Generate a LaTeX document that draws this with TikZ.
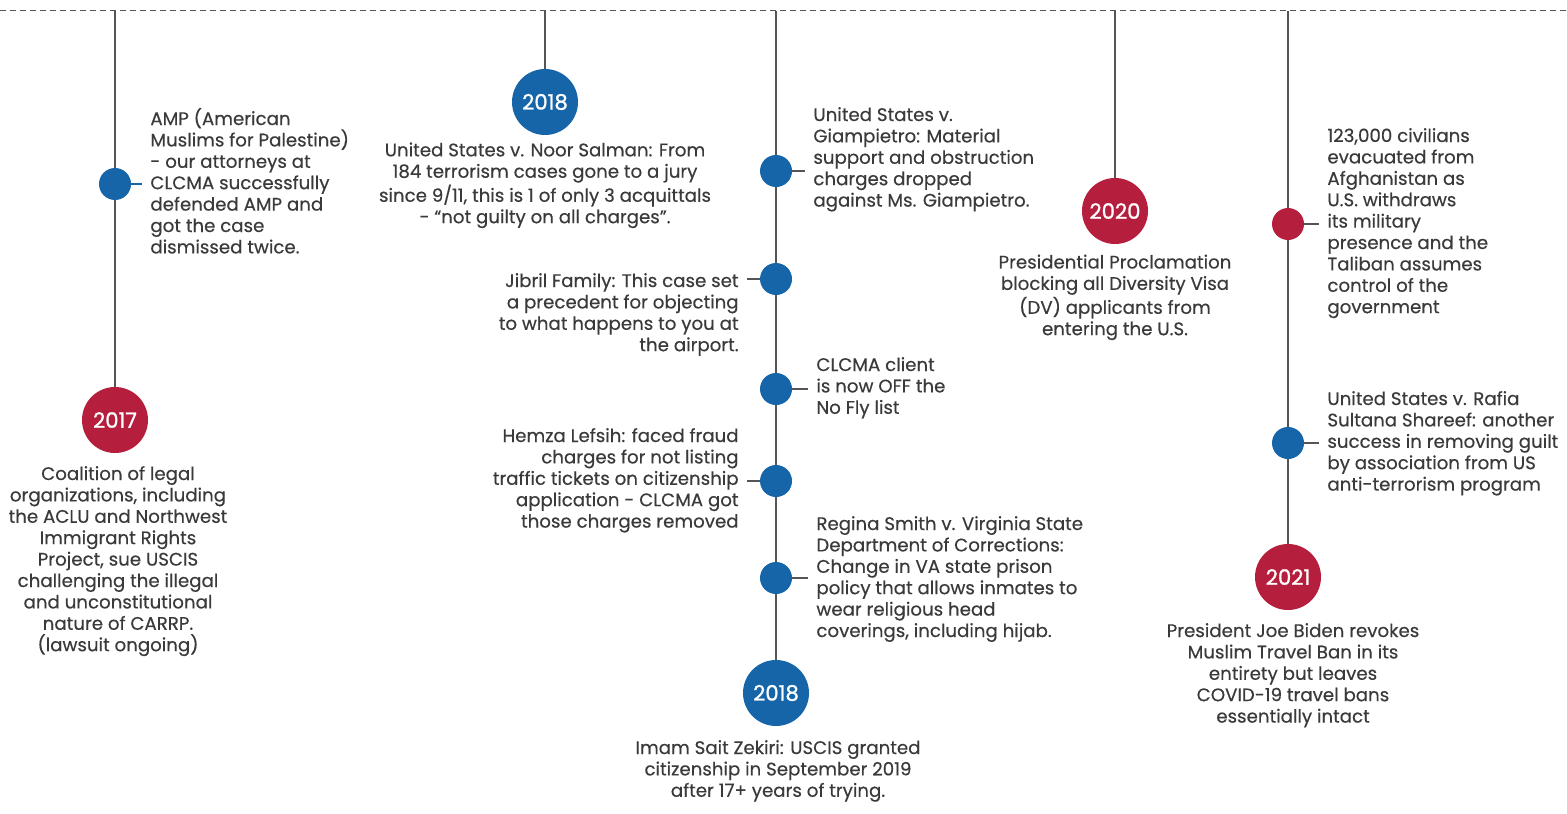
\documentclass[tikz,border=0pt]{standalone}
\usepackage{fontspec}
\setmainfont{Poppins}[FakeBold=0.4]
\newfontfamily\yearfont{Poppins}[FakeBold=1.2]
\definecolor{blu}{RGB}{21,101,168}
\definecolor{rosso}{RGB}{181,30,61}
\definecolor{linea}{RGB}{85,85,85}
\definecolor{testo}{RGB}{58,58,58}

\begin{document}
\begin{tikzpicture}[x=0.5pt,y=-0.5pt,
  anno/.style={text=testo, font=\fontsize{9.1}{10.7}\selectfont, inner xsep=4pt, inner ysep=0pt},
  anno sx/.style={anno, align=left, anchor=base west},
  anno dx/.style={anno, align=right, anchor=base east},
  anno c/.style={anno, align=center, anchor=base},
  pallino/.style={circle, fill=#1, minimum size=16pt, inner sep=0pt},
  anno y/.style={circle, fill=#1, minimum size=33pt, inner sep=0pt, text=white, font=\yearfont\fontsize{10.6}{12}\selectfont},
  asta/.style={draw=linea, line width=0.7pt},
  tacca/.style={draw=linea, line width=0.6pt}]
\useasboundingbox (0,0) rectangle (1567,813);
\draw[linea, line width=0.5pt, dash pattern=on 3pt off 2pt] (0,11) -- (1567,11);

\coordinate (t1) at (115,11);
\coordinate (t2) at (545,11);
\coordinate (t3) at (776,11);
\coordinate (t4) at (1115,11);
\coordinate (t5) at (1288,11);

\node[pallino=blu] (amp) at (115,184) {};
\node[anno y=rosso] (y17) at (115,420) {2017};
\node[anno y=blu] (y18a) at (545,102) {2018};
\node[pallino=blu] (giamp) at (776,171) {};
\node[pallino=blu] (jibril) at (776,279) {};
\node[pallino=blu] (nofly) at (776,389) {};
\node[pallino=blu] (hemza) at (776,481) {};
\node[pallino=blu] (regina) at (776,578) {};
\node[anno y=blu] (y18b) at (776,693) {2018};
\node[anno y=rosso] (y20) at (1115,211) {2020};
\node[pallino=rosso] (afgh) at (1288,224) {};
\node[pallino=blu] (rafia) at (1288,443) {};
\node[anno y=rosso] (y21) at (1288,577) {2021};

\draw[asta] (t1) -- (amp) -- (y17);
\draw[asta] (t2) -- (y18a);
\draw[asta] (t3) -- (giamp) -- (jibril) -- (nofly) -- (hemza) -- (regina) -- (y18b);
\draw[asta] (t4) -- (y20);
\draw[asta] (t5) -- (afgh) -- (rafia) -- (y21);

\node[anno sx] (amp txt) at (142,253.4) {AMP (American\\Muslims for Palestine)\\- our attorneys at\\CLCMA successfully\\defended AMP and\\got the case\\dismissed twice.};
\node[anno c] (y17 txt) at (118,651.2) {Coalition of legal\\organizations, including\\the ACLU and Northwest\\Immigrant Rights\\Project, sue USCIS\\challenging the illegal\\and unconstitutional\\nature of CARRP.\\(lawsuit ongoing)};
\node[anno c] (y18a txt) at (545,223.2) {United States v. Noor Salman: From\\184 terrorism cases gone to a jury\\since 9/11, this is 1 of only 3 acquittals\\- “not guilty on all charges”.};
\node[anno sx] (giamp txt) at (805,206.6) {United States v.\\Giampietro: Material\\support and obstruction\\charges dropped\\against Ms. Giampietro.};
\node[anno dx] (jibril txt) at (747,351.2) {Jibril Family: This case set\\a precedent for objecting\\to what happens to you at\\the airport.};
\node[anno sx] (nofly txt) at (808,413.8) {CLCMA client\\is now OFF the\\No Fly list};
\node[anno dx] (hemza txt) at (747,527.6) {Hemza Lefsih: faced fraud\\charges for not listing\\traffic tickets on citizenship\\application - CLCMA got\\those charges removed};
\node[anno sx] (regina txt) at (808,637) {Regina Smith v. Virginia State\\Department of Corrections:\\Change in VA state prison\\policy that allows inmates to\\wear religious head\\coverings, including hijab.};
\node[anno c] (y18b txt) at (778,796.8) {Imam Sait Zekiri: USCIS granted\\citizenship in September 2019\\after 17+ years of trying.};
\node[anno c] (y20 txt) at (1115,335.2) {Presidential Proclamation\\blocking all Diversity Visa\\(DV) applicants from\\entering the U.S.};
\node[anno sx] (afgh txt) at (1319,313.2) {123,000 civilians\\evacuated from\\Afghanistan as\\U.S. withdraws\\its military\\presence and the\\Taliban assumes\\control of the\\government};
\node[anno sx] (rafia txt) at (1319,490.6) {United States v. Rafia\\Sultana Shareef: another\\success in removing guilt\\by association from US\\anti-terrorism program};
\node[anno c] (y21 txt) at (1293,722.6) {President Joe Biden revokes\\Muslim Travel Ban in its\\entirety but leaves\\COVID-19 travel bans\\essentially intact};

\draw[tacca, draw=blu] (amp) -- (amp -| amp txt.west);
\draw[tacca] (giamp) -- (giamp -| giamp txt.west);
\draw[tacca] (jibril) -- (jibril -| jibril txt.east);
\draw[tacca] (nofly) -- (nofly -| nofly txt.west);
\draw[tacca] (hemza) -- (hemza -| hemza txt.east);
\draw[tacca] (regina) -- (regina -| regina txt.west);
\draw[tacca] (afgh) -- (afgh -| afgh txt.west);
\draw[tacca] (rafia) -- (rafia -| rafia txt.west);
\end{tikzpicture}
\end{document}
